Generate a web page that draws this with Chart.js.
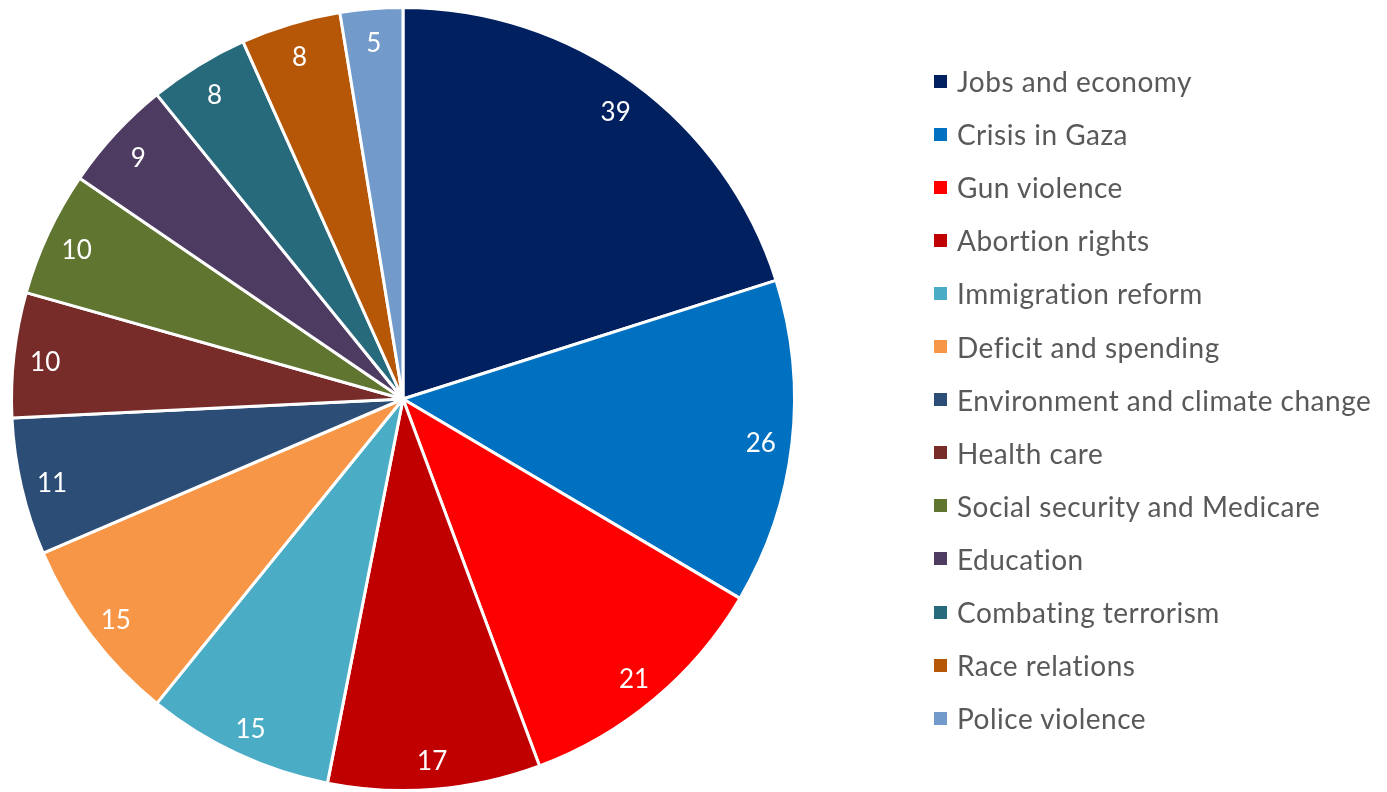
<!DOCTYPE html>
<html>
<head>
<meta charset="utf-8">
<script src="https://cdn.jsdelivr.net/npm/chart.js@4"></script>
<style>
  body { margin: 0; background: #fff; }
  #wrap { position: relative; width: 1387px; height: 792px; }
  #legend { position: absolute; left: 934px; top: 0; font-family: Lato, sans-serif; font-size: 28px; letter-spacing: 0.5px; color: #595959; }
  .item { position: absolute; left: 0; white-space: nowrap; display: flex; align-items: center; height: 34px; }
  .box { width: 13px; height: 13px; margin-right: 10px; }
</style>
</head>
<body>
<div id="wrap">
  <canvas id="myChart" width="1387" height="792"></canvas>
  <div id="legend"></div>
</div>
<script>
let temas = ["Jobs and economy", "Crisis in Gaza", "Gun violence", "Abortion rights", "Immigration reform",
  "Deficit and spending", "Environment and climate change", "Health care", "Social security and Medicare",
  "Education", "Combating terrorism", "Race relations", "Police violence"];
let valores = [39, 26, 21, 17, 15, 15, 11, 10, 10, 9, 8, 8, 5];
let cores = ["#002060", "#0070C0", "#FF0000", "#C00000", "#4BACC6", "#F79646", "#2C4D75",
  "#772C2A", "#5F7530", "#4D3B62", "#276A7C", "#B65708", "#729ACA"];

// legenda montada a partir das listas
let legenda = document.getElementById("legend");
temas.forEach(function(t, i){
    let div = document.createElement("div");
    div.className = "item";
    div.style.top = (81 + i * 53.1 - 17) + "px";
    div.innerHTML = '<span class="box" style="background:' + cores[i] + '"></span>' + t;
    legenda.appendChild(div);
});

// rotulos brancos dentro das fatias
const rotulos = {
    id: 'rotulos',
    afterDatasetsDraw(chart){
        const ctx = chart.ctx;
        const meta = chart.getDatasetMeta(0);
        ctx.save();
        ctx.fillStyle = '#fff';
        ctx.font = '26px Lato, sans-serif';
        ctx.textAlign = 'center';
        ctx.textBaseline = 'middle';
        meta.data.forEach(function(arc, i){
            const a = (arc.startAngle + arc.endAngle) / 2;
            const r = arc.outerRadius * 0.92;
            ctx.fillText(valores[i], arc.x + Math.cos(a) * r, arc.y + Math.sin(a) * r + 4);
        });
        ctx.restore();
    }
};

const ctx = document.getElementById('myChart').getContext('2d');
const myChart = new Chart(ctx, {
    type: 'pie',
    data: {
        labels: temas,
        datasets: [{
            data: valores,
            backgroundColor: cores,
            borderColor: '#fff',
            borderWidth: 3
        }]
    },
    options: {
        responsive: false,
        animation: false,
        layout: { padding: { left: 9, top: 6, right: 590, bottom: -2 } },
        plugins: {
            legend: { display: false },
            tooltip: { enabled: false }
        }
    },
    plugins: [rotulos]
});
</script>
</body>
</html>
